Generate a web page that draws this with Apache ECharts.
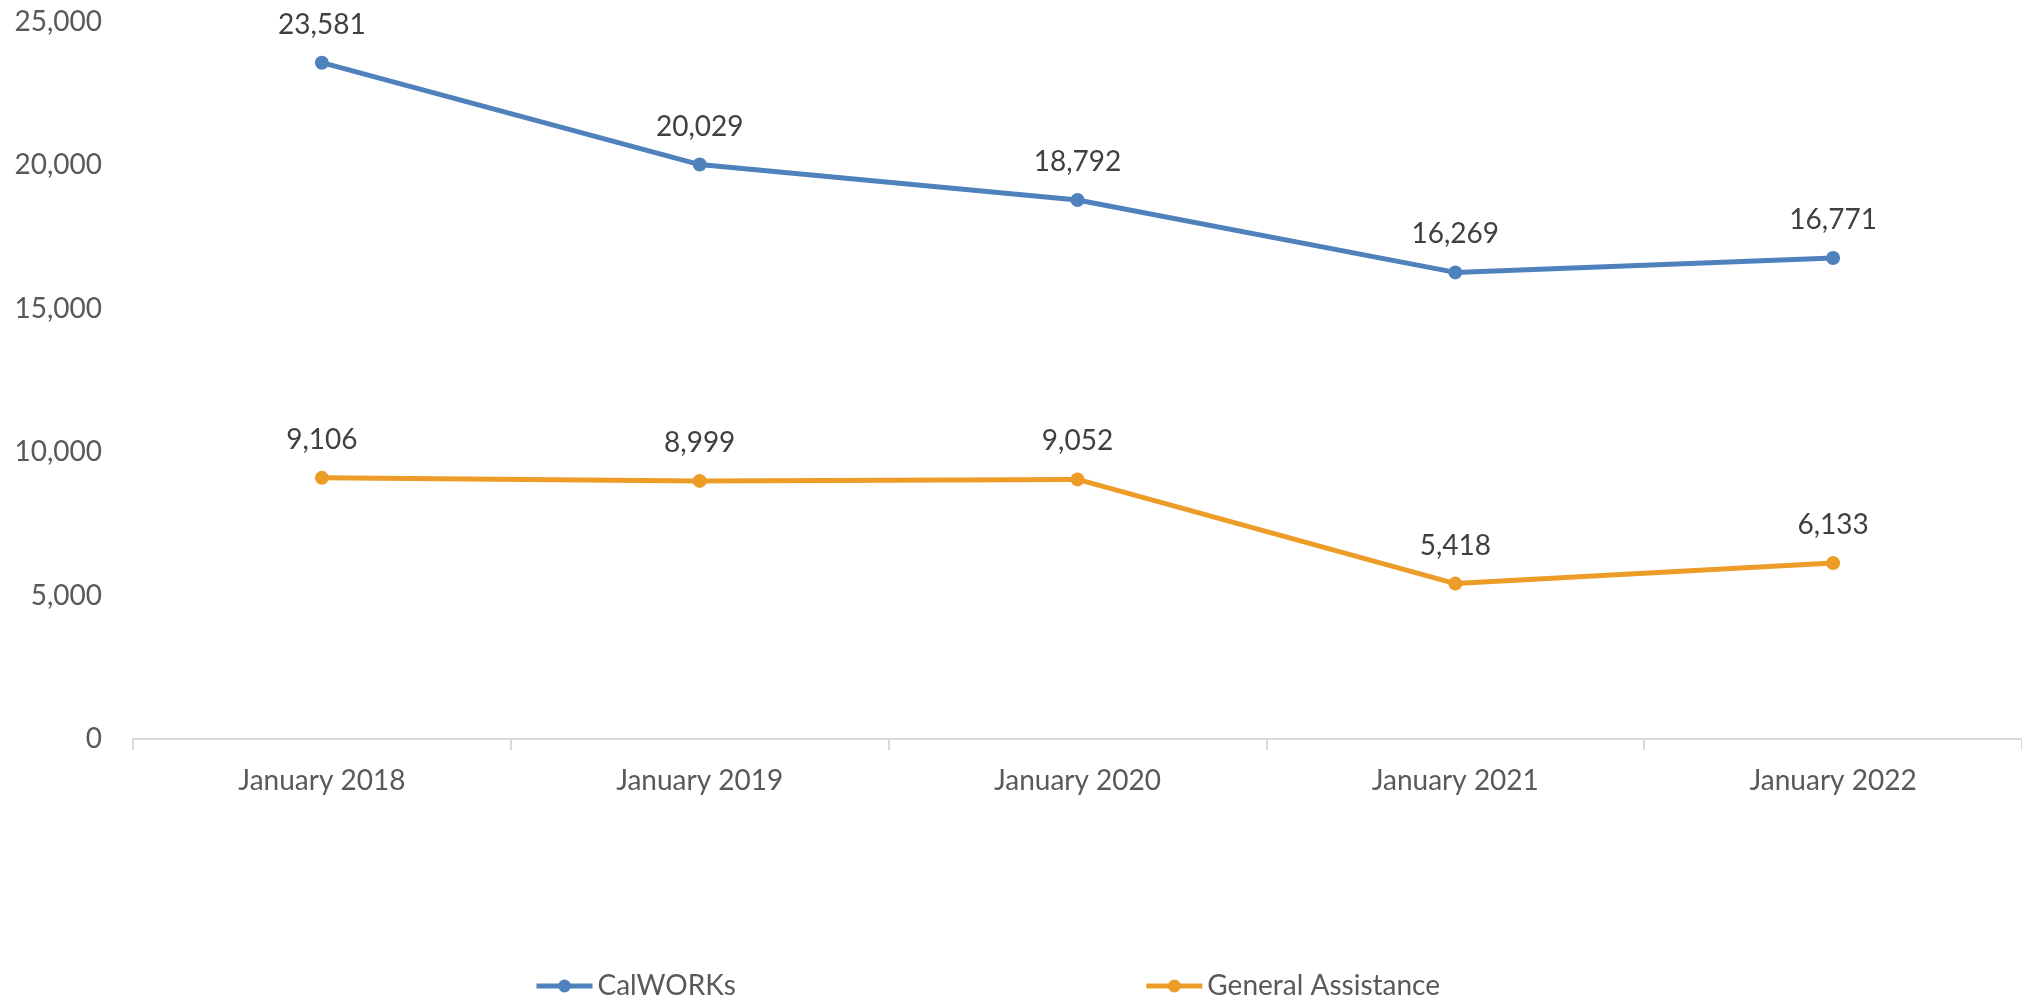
<!DOCTYPE html>
<html>
<head>
<meta charset="utf-8">
<script src="https://cdn.jsdelivr.net/npm/echarts@6/dist/echarts.min.js"></script>
<style>
  html, body { margin: 0; padding: 0; background: #fff; }
  #chart { width: 2022px; height: 999px; }
</style>
</head>
<body>
<div id="chart"></div>
<script>
const months = ['January 2018', 'January 2019', 'January 2020', 'January 2021', 'January 2022'];
const calworks = [23581, 20029, 18792, 16269, 16771];
const generalAssistance = [9106, 8999, 9052, 5418, 6133];

const chart = echarts.init(document.getElementById('chart'), null, { renderer: 'canvas' });

const fmt = (v) => v.toLocaleString('en-US');
const font = 'Lato, "Open Sans", sans-serif';

const makeSeries = (name, data, color) => ({
  name,
  type: 'line',
  data,
  symbol: 'circle',
  symbolSize: 14,
  color,
  lineStyle: { width: 5, color },
  itemStyle: { color },
  label: {
    show: true,
    position: 'top',
    distance: 17,
    formatter: (p) => fmt(p.value),
    color: '#404040',
    fontSize: 28,
    fontFamily: font,
  },
  animation: false,
});

const option = {
  animation: false,
  grid: {
    left: 133,
    width: 1890,
    top: 22,
    bottom: 260,
    containLabel: false,
  },
  legend: {
    left: 529,
    top: 967,
    itemWidth: 56,
    itemHeight: 16,
    itemGap: 408,
    lineStyle: { width: 5 },
    textStyle: { color: '#595959', fontSize: 28, fontFamily: font },
    data: ['CalWORKs', 'General Assistance'],
  },
  xAxis: {
    type: 'category',
    data: months,
    boundaryGap: true,
    axisLine: { lineStyle: { color: '#d9d9d9', width: 2 } },
    axisTick: { show: true, length: 11, lineStyle: { color: '#d9d9d9', width: 2 } },
    axisLabel: { color: '#595959', fontSize: 28, fontFamily: font, margin: 28 },
    splitLine: { show: false },
  },
  yAxis: {
    type: 'value',
    min: 0,
    max: 25000,
    interval: 5000,
    axisLine: { show: false },
    axisTick: { show: false },
    splitLine: { show: false },
    axisLabel: {
      color: '#595959',
      fontSize: 28,
      fontFamily: font,
      margin: 31,
      formatter: (v) => fmt(v),
    },
  },
  series: [
    makeSeries('CalWORKs', calworks, '#4f81bd'),
    makeSeries('General Assistance', generalAssistance, '#ed9c28'),
  ],
};

chart.setOption(option);
</script>
</body>
</html>
